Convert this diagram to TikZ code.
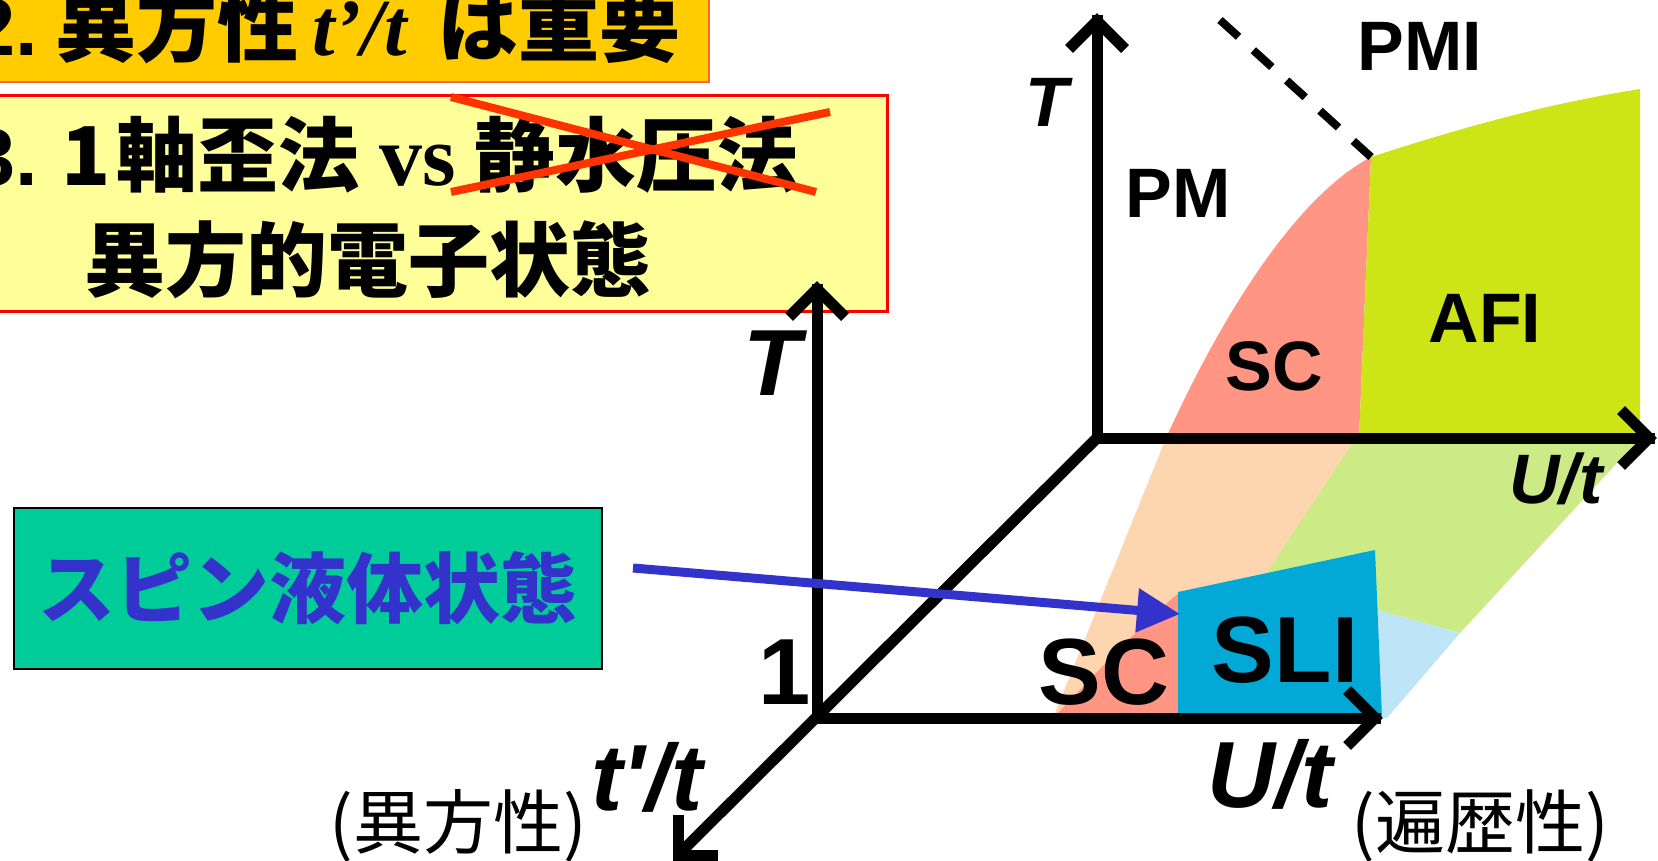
\documentclass[tikz,border=0pt]{standalone}
\usepackage{fontspec}
\usetikzlibrary{arrows.meta}
\newfontfamily\ars{Liberation Sans}[Ligatures=TeXOff]
\newfontfamily\tms{Liberation Serif}
\newfontfamily\jp{Noto Sans CJK JP}
\definecolor{salmon}{RGB}{255,149,130}
\definecolor{afic}{RGB}{205,228,23}
\definecolor{peach}{RGB}{253,213,174}
\definecolor{lgreen}{RGB}{204,235,135}
\definecolor{lblue}{RGB}{190,229,246}
\definecolor{slic}{RGB}{2,169,215}
\definecolor{orbox}{RGB}{255,204,0}
\definecolor{yebox}{RGB}{255,255,153}
\definecolor{grbox}{RGB}{0,204,153}
\definecolor{bluec}{RGB}{51,51,204}
\definecolor{redx}{RGB}{255,51,0}
\tikzset{
  axis/.style={line width=5.5pt, line cap=rect},
  chev/.style={line width=5.5pt, line join=miter, line cap=butt},
  labB/.style={font=\ars\bfseries\fontsize{35pt}{35pt}\selectfont, inner sep=0pt},
  labBI/.style={font=\ars\bfseries\itshape\fontsize{35pt}{35pt}\selectfont, inner sep=0pt},
  labF/.style={font=\ars\bfseries\fontsize{47pt}{47pt}\selectfont, inner sep=0pt},
  labFI/.style={font=\ars\bfseries\itshape\fontsize{47pt}{47pt}\selectfont, inner sep=0pt},
  jpl/.style={font=\jp\fontsize{35pt}{35pt}\selectfont, inner sep=0pt},
  title/.style={font=\fontsize{40.5pt}{40.5pt}\selectfont, inner sep=0pt, anchor=base west},
  crossline/.style={draw=redx, line width=4pt},
  dsh/.style={line width=4pt, dash pattern=on 12.5pt off 10pt},
  barrow/.style={draw=bluec, line width=4.5pt, -{Triangle[length=21.5pt,width=21pt]}},
}
\begin{document}
\begin{tikzpicture}[x=0.5pt,y=-0.5pt]
\useasboundingbox (0,0) rectangle (1658,861);
% header boxes
\fill[orbox, draw={rgb,255:red,255;green,102;blue,51}, line width=1pt] (-10,-10) rectangle (709,82);
\node[title] (t2) at (-30,56) {{\ars\bfseries 2.}\hspace{8.75pt}{\jp\bfseries 異方性}\hspace{7pt}{\tms\bfseries\itshape t’/t}\hspace{15.5pt}{\jp\bfseries は重要}};
\fill[yebox, draw={rgb,255:red,255;green,0;blue,0}, line width=1.5pt] (-10,96) rectangle (887,311);
\node[title] (t3) at (-30,185.5) {{\ars\bfseries 3.}\hspace{12pt}{\jp\bfseries 1}\hspace{2.5pt}{\jp\bfseries 軸歪法}\hspace{10pt}{\tms\bfseries\fontsize{43pt}{43pt}\selectfont vs}\hspace{9.5pt}{\jp\bfseries 静水圧法}};
\node[title] (t3b) at (84,290) {\jp\bfseries 異方的電子状態};
\draw[crossline] (451,97) -- (816,192);
\draw[crossline] (451,192) -- (830,112);
% floor regions
\fill[peach] (1166,438) -- (1356,438) -- (1230,640) -- (1178,718) -- (1053,718) -- cycle;
\fill[lgreen] (1356,438) -- (1640,438) -- (1460,633) -- (1377,610) -- (1377,600) -- (1250,598) -- cycle;
\fill[lblue] (1377,610) -- (1460,633) -- (1387,718) -- (1378,718) -- cycle;
% back plane
\fill[salmon] (1166,438) .. controls (1215,330) and (1290,200) .. (1371,157) -- (1359,438) -- cycle;
\fill[afic] (1371,157) .. controls (1460,128) and (1550,103) .. (1640,89) -- (1640,438) -- (1359,438) -- cycle;
% front plane
\fill[salmon] (1053,718) .. controls (1090,680) and (1140,625) .. (1180,592) -- (1180,718) -- cycle;
\fill[slic] (1178,592) -- (1375,550) -- (1382,718) -- (1178,718) -- cycle;
% axes
\coordinate (O1) at (817,718);
\coordinate (O2) at (1097,438);
\coordinate (T1) at (817,289);
\coordinate (U1) at (1375,718);
\coordinate (T2) at (1097,21);
\coordinate (U2) at (1649,438);
\coordinate (P) at (678,855);
\draw[axis] (O1) -- (T1);
\draw[axis] (O1) -- (U1);
\draw[axis] (O2) -- (T2);
\draw[axis] (O2) -- (U2);
\draw[axis, line cap=butt] (O2) -- (P);
\draw[chev] (T1) ++(-28,28) -- (T1) -- ++(28,28);
\draw[chev] (U1) ++(-28,-28) -- (U1) -- ++(-28,28);
\draw[chev] (T2) ++(-28,28) -- (T2) -- ++(28,28);
\draw[chev] (U2) ++(-28,-28) -- (U2) -- ++(-28,28);
\draw[chev] (P) ++(0,-40) -- (P) -- ++(40,0);
% dashed boundary
\coordinate (dA) at (1220,20);
\coordinate (dB) at (1371,157);
\draw[dsh] (dA) -- (dB);
% labels
\node[labB] (pmi) at (1420,46) {PMI};
\node[labB] (pm) at (1178,193) {PM};
\node[labB] (scb) at (1274,366) {SC};
\node[labB] (afi) at (1485,318) {AFI};
\node[labBI] (tb) at (1047,102) {T};
\node[labBI] (ub) at (1556,479) {U/t};
\node[labFI] (tf) at (772,363) {T};
\node[labF] (one) at (785,672) {1};
\node[labF] (scf) at (1104,672) {SC};
\node[labF] (sli) at (1285,650) {SLI};
\node[labFI] (uf) at (1270,774) {U/t};
\node[labFI] (tt) at (647,777) {t'/t};
\node[jpl] (aniso) at (458,826) {(異方性)};
\node[jpl] (itin) at (1480,826) {(遍歴性)};
% spin liquid box
\node[draw=black, line width=1pt, fill=grbox, minimum width=294pt, minimum height=80.5pt, inner sep=0pt,
      font=\jp\bfseries\fontsize{38.5pt}{38.5pt}\selectfont, text=bluec] (spin) at (308,588.5) {スピン液体状態};
\coordinate (bstart) at (633,568);
\coordinate (btip) at (1180,614);
\draw[barrow] (bstart) -- (btip);
\end{tikzpicture}
\end{document}
